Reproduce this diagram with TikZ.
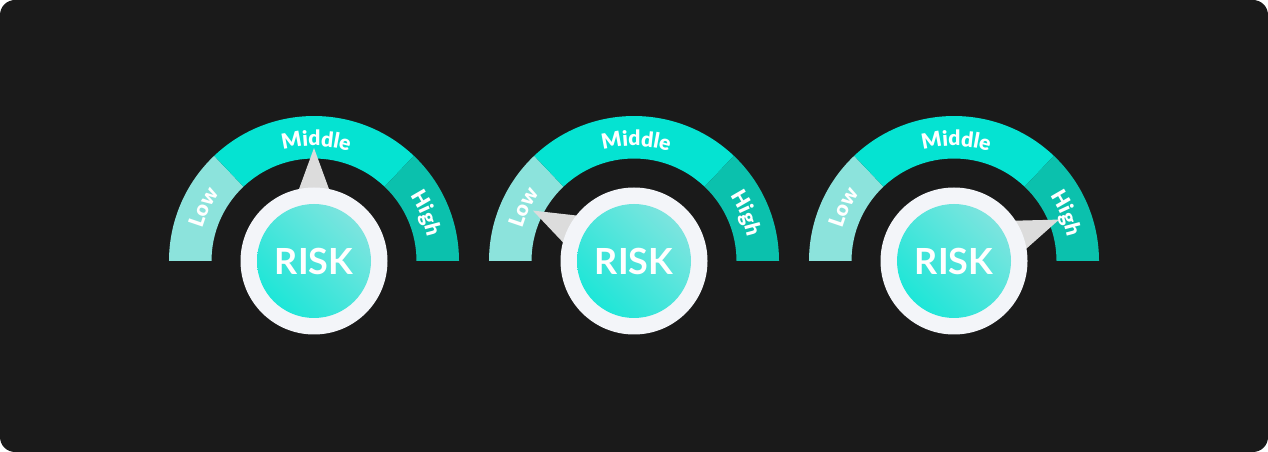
\documentclass[tikz,border=0pt]{standalone}
\usepackage{fontspec}
\setmainfont{Lato}
\newfontfamily\latoheavy{Lato}[UprightFont=* Bold]
\usetikzlibrary{calc,decorations.text,shadings}
\definecolor{bg}{HTML}{1A1A1A}
\definecolor{lowc}{HTML}{8CE3DC}
\definecolor{midc}{HTML}{05E3D2}
\definecolor{highc}{HTML}{0BC1AD}
\definecolor{ringc}{HTML}{F3F5F9}
\definecolor{ptrc}{HTML}{DCDCDC}
\definecolor{coreA}{HTML}{0AE6D6}
\definecolor{coreB}{HTML}{90E4E0}
\definecolor{coreM}{HTML}{4DE5DB}
\newcommand{\lblfmt}{\latoheavy\bfseries\fontsize{21}{21}\selectfont\color{white}}
\tikzset{
  ringnode/.style={circle, fill=ringc, minimum size=147pt, inner sep=0pt},
  corenode/.style={circle, minimum size=114pt, inner sep=0pt,
    lower left=coreA, upper right=coreB, upper left=coreM, lower right=coreM,
    text=white, font=\bfseries\fontsize{36}{36}\selectfont},
  pointerfill/.style={fill=ptrc},
  lbl/.style={decorate, decoration={text along path, text align=center, text={#1}}}
}
\begin{document}
\begin{tikzpicture}[x=1pt,y=1pt]
\useasboundingbox (0,0) rectangle (1268,452);
\fill[white] (0,0) rectangle (1268,452);
\fill[bg, rounded corners=15pt] (0,0) rectangle (1268,452);
\foreach \cx/\pa/\i in {314/90/1, 634/153.5/2, 954/21.5/3} {
  \coordinate (c\i) at (\cx,191);
  % sectors
  \fill[lowc] ($(c\i)+(180:145)$) arc[start angle=180, end angle=133.5, radius=145]
     -- ($(c\i)+(133.5:102.5)$) arc[start angle=133.5, end angle=180, radius=102.5] -- cycle;
  \fill[midc] ($(c\i)+(133.5:145)$) arc[start angle=133.5, end angle=46.5, radius=145]
     -- ($(c\i)+(46.5:102.5)$) arc[start angle=46.5, end angle=133.5, radius=102.5] -- cycle;
  \fill[highc] ($(c\i)+(46.5:145)$) arc[start angle=46.5, end angle=0, radius=145]
     -- ($(c\i)+(0:102.5)$) arc[start angle=0, end angle=46.5, radius=102.5] -- cycle;
  % labels
  \begingroup\lblfmt
  \path[lbl={|\lblfmt|Low}] ($(c\i)+(176:116)$) arc[start angle=176, end angle=132, radius=116];
  \path[lbl={|\lblfmt|Middle}] ($(c\i)+(132:115)$) arc[start angle=132, end angle=46, radius=115];
  \path[lbl={|\lblfmt|High}] ($(c\i)+(46:116)$) arc[start angle=46, end angle=0, radius=116];
  \endgroup
  % pointer
  \coordinate (tip\i) at ($(c\i)+(\pa:113)$);
  \fill[pointerfill] (tip\i) -- ($(c\i)+(\pa:50)+(\pa+90:23)$) -- ($(c\i)+(\pa:50)+(\pa-90:23)$) -- cycle;
  % dial
  \node[ringnode] (ring\i) at (c\i) {};
  \node[corenode] (core\i) at (c\i) {RISK};
}
\end{tikzpicture}
\end{document}
